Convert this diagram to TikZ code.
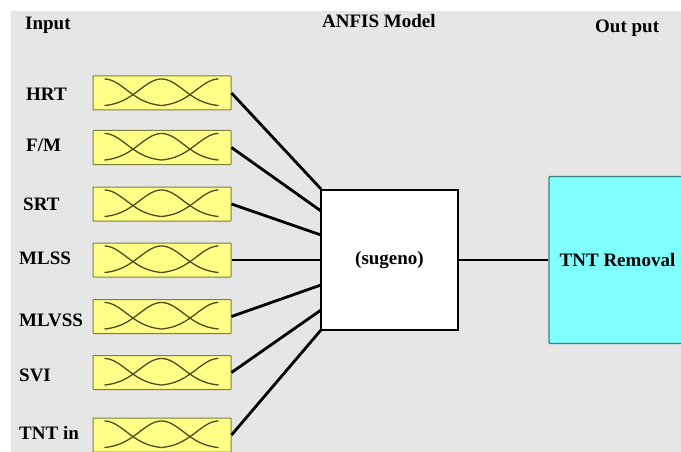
\documentclass[tikz,border=0pt]{standalone}
\usepackage{fontspec}
\setmainfont{Liberation Serif}
\definecolor{bggray}{HTML}{E6E6E6}
\definecolor{mfyellow}{HTML}{FFFF88}
\definecolor{mfborder}{HTML}{7F7F3A}
\definecolor{mfcurve}{HTML}{4D4D1A}
\definecolor{outcyan}{HTML}{80FFFF}
\definecolor{outborder}{HTML}{3B7F7F}
\tikzset{
  mfbox/.style={draw=mfborder, fill=mfyellow, line width=1pt, minimum width=138pt, minimum height=34pt, inner sep=0pt, rounded corners=0.5pt},
  lbl/.style={font=\fontsize{19}{21}\selectfont\bfseries, anchor=base west, inner sep=0pt},
  link/.style={line width=2.8pt, black},
  mf/.style={draw=mfcurve, line width=1.3pt},
  fisbox/.style={draw=black, fill=white, line width=2.8pt, minimum width=137pt, minimum height=140pt, inner sep=0pt, font=\fontsize{19}{21}\selectfont\bfseries},
  outbox/.style={draw=outborder, fill=outcyan, line width=1.2pt, minimum width=137pt, minimum height=167pt, inner sep=0pt, rounded corners=1pt, font=\fontsize{19}{21}\selectfont\bfseries},
}
\newcommand\mfcurves[1]{%
  \begin{scope}[shift={(#1.north west)}]
    \draw[mf] plot[domain=0:57, samples=30] ({12+\x}, {31-27.5*exp(-((\x)*(\x))/968)});
    \draw[mf] plot[domain=-57:57, samples=50] ({69+\x}, {31-27.5*exp(-((\x)*(\x))/968)});
    \draw[mf] plot[domain=-57:0, samples=30] ({126+\x}, {31-27.5*exp(-((\x)*(\x))/968)});
  \end{scope}}
\begin{document}
\begin{tikzpicture}[x=1pt, y=-1pt]
  \useasboundingbox (0,0) rectangle (681,452);
  \clip (0,0) rectangle (681,452);
  \fill[white] (0,0) rectangle (681,452);
  \fill[bggray] (11,11) rectangle (681,452);

  % titles
  \node[lbl] (tin) at (25,30) {Input};
  \node[lbl] (tmodel) at (322,28) {ANFIS Model};
  \node[lbl] (tout) at (595,33) {Out put};

  % input labels
  \node[lbl] (l1) at (26,101) {HRT};
  \node[lbl] (l2) at (26,151) {F/M};
  \node[lbl] (l3) at (23,211) {SRT};
  \node[lbl] (l4) at (19,264) {MLSS};
  \node[lbl] (l5) at (19,326) {MLVSS};
  \node[lbl] (l6) at (19,381) {SVI};
  \node[lbl] (l7) at (19,439) {TNT in};

  % membership function boxes
  \node[mfbox] (b1) at (162,93) {};
  \node[mfbox] (b2) at (162,147.5) {};
  \node[mfbox] (b3) at (162,204) {};
  \node[mfbox] (b4) at (162,260) {};
  \node[mfbox] (b5) at (162,316.5) {};
  \node[mfbox] (b6) at (162,372.5) {};
  \node[mfbox] (b7) at (162,435) {};
  \mfcurves{b1}\mfcurves{b2}\mfcurves{b3}\mfcurves{b4}\mfcurves{b5}\mfcurves{b6}\mfcurves{b7}

  % FIS box
  \node[fisbox] (fis) at (389.5,260) {(sugeno)};

  % connection points
  \coordinate (e1) at (321,189);
  \coordinate (e2) at (321,211);
  \coordinate (e3) at (321,235);
  \coordinate (e4) at (321,260);
  \coordinate (e5) at (321,285);
  \coordinate (e6) at (321,310);
  \coordinate (e7) at (321,330);
  \draw[link] (b1.east) -- (e1);
  \draw[link] (b2.east) -- (e2);
  \draw[link] (b3.east) -- (e3);
  \draw[link] (b4.east) -- (e4);
  \draw[link] (b5.east) -- (e5);
  \draw[link] (b6.east) -- (e6);
  \draw[link] (b7.east) -- (e7);

  % output
  \node[outbox] (out) at (617.5,260) {TNT Removal};
  \draw[line width=2.2pt] (fis.east) -- (out.west);
\end{tikzpicture}
\end{document}
